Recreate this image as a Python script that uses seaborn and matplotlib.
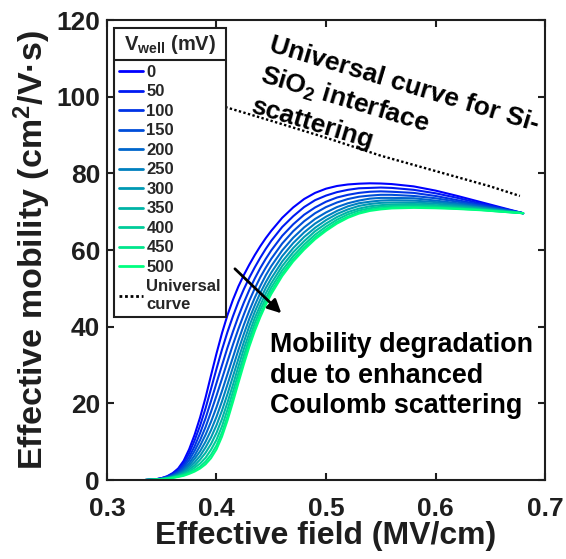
import matplotlib
matplotlib.use("Agg")
import matplotlib.pyplot as plt
import numpy as np
import pandas as pd
import seaborn as sns
from matplotlib.lines import Line2D

# Effective field grid (MV/cm) shared by all V_well curves
field = [0.335, 0.345, 0.35, 0.355, 0.36, 0.365, 0.37, 0.375, 0.38, 0.385,
         0.39, 0.395, 0.40, 0.405, 0.41, 0.415, 0.42, 0.425, 0.43, 0.435,
         0.44, 0.445, 0.45, 0.46, 0.47, 0.48, 0.49, 0.50, 0.51, 0.52,
         0.53, 0.54, 0.55, 0.56, 0.58, 0.60, 0.62, 0.64, 0.66, 0.68]

v_well = [0, 50, 100, 150, 200, 250, 300, 350, 400, 450, 500]

# Effective mobility (cm^2/V.s) for each well voltage
mu_0 = [0, 0.2, 0.5, 1.0, 1.8, 3.0, 5.0, 8.0, 11.8, 16.3, 21.5, 27.3, 33.0, 38.3, 43.0, 47.0, 50.5, 53.5, 56.2, 58.7,
        61.0, 63.1, 65.0, 68.4, 71.1, 73.3, 74.9, 76.0, 76.7, 77.1, 77.3, 77.4, 77.35, 77.2, 76.6, 75.5, 74.1, 72.6, 71.1, 69.6]
mu_50 = [0, 0.2, 0.5, 0.9, 1.6, 2.65, 4.4, 7.0, 10.3, 14.2, 18.7, 23.8, 29.0, 34.0, 38.6, 42.7, 46.5, 49.8, 52.8, 55.5,
         58.0, 60.3, 62.4, 66.0, 68.8, 71.2, 73.0, 74.2, 75.1, 75.7, 76.1, 76.2, 76.3, 76.2, 75.7, 74.8, 73.6, 72.2, 70.9, 69.6]
mu_100 = [0, 0.2, 0.4, 0.8, 1.41, 2.32, 3.8, 6.0, 8.8, 12.2, 16.1, 20.6, 25.3, 29.9, 34.5, 38.7, 42.7, 46.3, 49.6, 52.6,
          55.3, 57.7, 59.9, 63.7, 66.7, 69.2, 71.1, 72.6, 73.7, 74.4, 74.9, 75.2, 75.3, 75.2, 74.9, 74.1, 73.0, 71.9, 70.8, 69.6]
mu_150 = [0, 0.2, 0.4, 0.71, 1.25, 2.03, 3.3, 5.2, 7.6, 10.4, 13.8, 17.8, 22.0, 26.4, 30.9, 35.3, 39.4, 43.2, 46.8, 50.0,
          52.9, 55.4, 57.7, 61.7, 64.9, 67.5, 69.6, 71.2, 72.4, 73.3, 73.9, 74.2, 74.4, 74.4, 74.1, 73.5, 72.6, 71.6, 70.6, 69.6]
mu_200 = [0, 0.1, 0.3, 0.64, 1.1, 1.77, 2.8, 4.4, 6.4, 8.9, 11.8, 15.2, 19.0, 23.2, 27.6, 32.0, 36.4, 40.5, 44.2, 47.6,
          50.6, 53.4, 55.8, 59.9, 63.2, 65.9, 68.1, 69.8, 71.2, 72.2, 72.9, 73.4, 73.6, 73.6, 73.5, 72.9, 72.2, 71.4, 70.5, 69.6]
mu_250 = [0, 0.1, 0.3, 0.57, 0.98, 1.55, 2.4, 3.8, 5.5, 7.5, 10.0, 13.0, 16.5, 20.5, 24.9, 29.4, 33.9, 38.1, 42.1, 45.6,
          48.8, 51.6, 54.1, 58.4, 61.8, 64.6, 66.9, 68.7, 70.2, 71.4, 72.2, 72.6, 72.9, 73.0, 72.9, 72.5, 71.9, 71.1, 70.4, 69.6]
mu_300 = [0, 0.1, 0.3, 0.51, 0.86, 1.35, 2.1, 3.2, 4.6, 6.3, 8.5, 11.1, 14.3, 18.1, 22.4, 27.0, 31.6, 36.0, 40.2, 43.9,
          47.1, 50.1, 52.6, 57.0, 60.5, 63.4, 65.8, 67.8, 69.4, 70.6, 71.5, 72.0, 72.3, 72.4, 72.4, 72.1, 71.6, 71.0, 70.3, 69.6]
mu_350 = [0, 0.1, 0.3, 0.46, 0.76, 1.17, 1.8, 2.7, 3.8, 5.3, 7.1, 9.4, 12.3, 15.9, 20.2, 24.8, 29.6, 34.2, 38.4, 42.3,
          45.6, 48.7, 51.3, 55.8, 59.4, 62.3, 64.9, 66.9, 68.6, 69.9, 70.8, 71.4, 71.7, 71.9, 72.0, 71.7, 71.3, 70.8, 70.2, 69.6]
mu_400 = [0, 0.1, 0.2, 0.42, 0.68, 1.02, 1.5, 2.2, 3.2, 4.3, 5.8, 7.9, 10.5, 14.0, 18.3, 23.0, 27.8, 32.5, 36.9, 40.9,
          44.4, 47.4, 50.2, 54.7, 58.4, 61.4, 64.0, 66.1, 67.9, 69.3, 70.3, 70.9, 71.3, 71.5, 71.6, 71.4, 71.0, 70.6, 70.1, 69.6]
mu_450 = [0, 0.1, 0.2, 0.38, 0.6, 0.89, 1.3, 1.9, 2.6, 3.5, 4.8, 6.6, 9.0, 12.4, 16.6, 21.4, 26.3, 31.1, 35.7, 39.7,
          43.2, 46.4, 49.2, 53.8, 57.6, 60.6, 63.3, 65.4, 67.3, 68.7, 69.8, 70.5, 70.9, 71.1, 71.2, 71.1, 70.8, 70.5, 70.0, 69.6]
mu_500 = [0, 0.1, 0.2, 0.35, 0.55, 0.8, 1.1, 1.6, 2.2, 3.0, 4.1, 5.7, 8.0, 11.3, 15.5, 20.3, 25.3, 30.2, 34.8, 38.9,
          42.5, 45.7, 48.5, 53.2, 57.0, 60.1, 62.8, 65.0, 66.9, 68.4, 69.5, 70.2, 70.6, 70.85, 71.0, 70.9, 70.7, 70.4, 70.0, 69.6]

mobility = [mu_0, mu_50, mu_100, mu_150, mu_200, mu_250,
            mu_300, mu_350, mu_400, mu_450, mu_500]

# Universal curve for Si-SiO2 interface scattering
universal_field = [0.408, 0.45, 0.50, 0.55, 0.60, 0.65, 0.677]
universal_mu = [97.3, 93.7, 89.3, 84.6, 80.6, 76.6, 74.1]

# long-form table for seaborn
df = pd.DataFrame({
    "field": np.tile(field, len(v_well)),
    "mobility": np.concatenate(mobility),
    "V_well": np.repeat(v_well, len(field)),
})

sns.set_style("ticks")
plt.rcParams["font.family"] = ["Liberation Sans", "DejaVu Sans"]
plt.rcParams["font.weight"] = "bold"
plt.rcParams["axes.labelweight"] = "bold"
plt.rcParams["mathtext.fontset"] = "custom"
plt.rcParams["mathtext.rm"] = "Liberation Sans:bold"
plt.rcParams["mathtext.it"] = "Liberation Sans:bold"
plt.rcParams["mathtext.bf"] = "Liberation Sans:bold"

ink = "#1e1e1e"

# blue -> spring green colour ramp
palette = {v: (0.0, v / 500.0, 1.0 - 0.5 * v / 500.0) for v in v_well}

fig = plt.figure(figsize=(5.66, 5.59), dpi=100)
ax = fig.add_axes([0.189, 0.1413, 0.774, 0.8229])

sns.lineplot(data=df, x="field", y="mobility", hue="V_well", hue_order=v_well,
             palette=palette, estimator=None, sort=False, legend=False,
             linewidth=1.5, ax=ax)
sns.lineplot(x=universal_field, y=universal_mu, color="k", linestyle=(0, (1, 1)),
             linewidth=1.7, estimator=None, sort=False, ax=ax)

ax.set_xlim(0.3, 0.7)
ax.set_ylim(0, 120)
ax.set_xticks([0.3, 0.4, 0.5, 0.6, 0.7])
ax.set_xticklabels(["0.3", "0.4", "0.5", "0.6", "0.7"])
ax.set_yticks([0, 20, 40, 60, 80, 100, 120])

for s in ax.spines.values():
    s.set_visible(True)
    s.set_linewidth(1.5)
    s.set_color(ink)
ax.tick_params(direction="in", length=5, width=1.5, top=True, right=True,
               labelsize=19, colors=ink)
ax.tick_params(axis="x", pad=12)
ax.tick_params(axis="y", pad=5)
for lab in ax.get_xticklabels() + ax.get_yticklabels():
    lab.set_fontweight("bold")

ax.set_xlabel("Effective field (MV/cm)", fontsize=23, labelpad=0, color=ink)
ax.set_ylabel("Effective mobility (cm$^2$/V\u00b7s)", fontsize=24.5, labelpad=2, color=ink)

# legend
handles = [Line2D([], [], color=palette[v], lw=2) for v in v_well]
handles.append(Line2D([], [], color="k", ls=(0, (1, 1)), lw=2))
labels = [str(v) for v in v_well] + ["Universal\ncurve"]
leg = ax.legend(handles, labels, title=r"V$_{\rm well}$ (mV)", loc="upper left",
                bbox_to_anchor=(0.016, 0.983), prop={"weight": "bold", "size": 12},
                title_fontproperties={"weight": "bold", "size": 14.5},
                frameon=True, fancybox=False, edgecolor=ink, framealpha=1,
                handlelength=1.45, handletextpad=0.2, labelspacing=0.27,
                borderpad=0.3, borderaxespad=0)
leg.get_frame().set_linewidth(1.5)
# extra room between the title and the entries
leg._legend_box.sep = 6.5

# annotations
ax.annotate("", xy=(0.461, 43.0), xytext=(0.415, 55.6),
            arrowprops=dict(arrowstyle="-|>", color="k", lw=2, mutation_scale=20))
ax.text(0.449, 17.5, "Mobility degradation\ndue to enhanced\nCoulomb scattering",
        ha="left", va="baseline", fontsize=19.4, fontweight="bold", linespacing=1.22,
        color="k")
ax.text(0.452, 116.6, "Universal curve for Si-\nSiO$_2$ interface\nscattering",
        rotation=-16.7, rotation_mode="anchor", ha="left", va="top",
        fontsize=19, fontweight="bold", linespacing=1.3, color="k")

# separator under the legend title
fig.canvas.draw()
renderer = fig.canvas.get_renderer()
tb = leg.get_title().get_window_extent(renderer)
fb = leg.get_frame().get_window_extent(renderer)
W, H = fig.bbox.width, fig.bbox.height
ysep = (tb.y0 - 4) / H
fig.add_artist(Line2D([fb.x0 / W, fb.x1 / W], [ysep, ysep], transform=fig.transFigure,
                      color=ink, lw=1.5))

fig.savefig("out.png", dpi=100)
